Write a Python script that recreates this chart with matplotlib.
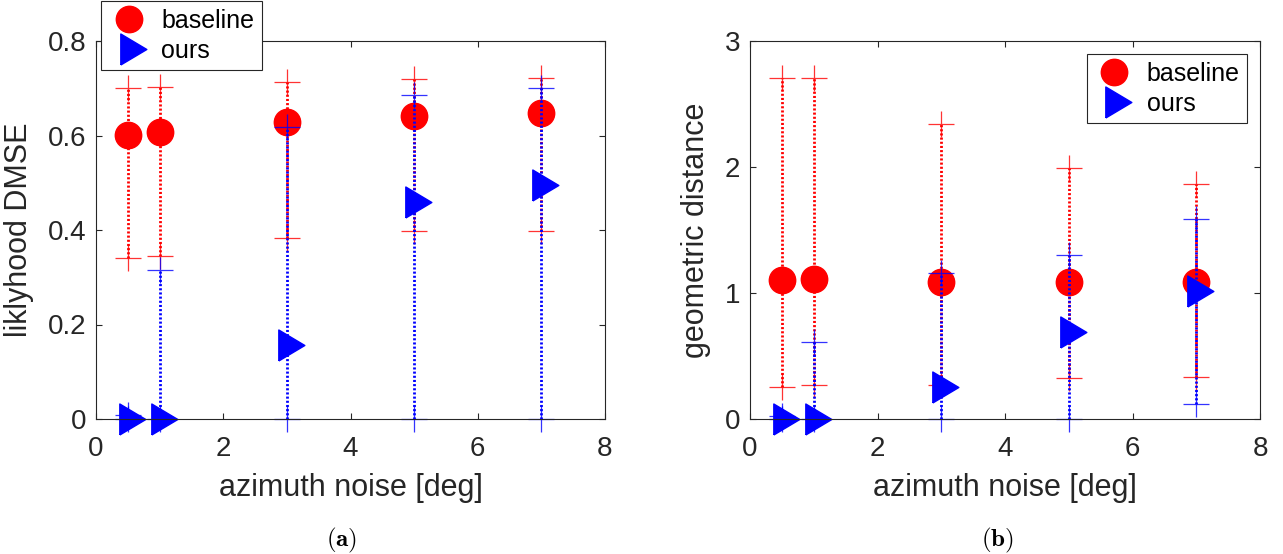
import matplotlib.pyplot as plt
from matplotlib.lines import Line2D

# ===== data: noise levels and per-method statistics (mean, lower, upper)
noise = [0.5, 1, 3, 5, 7]

# panel (a): likelihood DMSE
dmse_base = [0.602, 0.608, 0.628, 0.642, 0.648]
dmse_base_lo = [0.341, 0.345, 0.383, 0.398, 0.398]
dmse_base_hi = [0.701, 0.703, 0.714, 0.719, 0.722]
dmse_ours = [0.0, 0.0, 0.157, 0.459, 0.495]
dmse_ours_lo = [0.0, 0.0, 0.0, 0.0, 0.0]
dmse_ours_hi = [0.008, 0.315, 0.617, 0.686, 0.701]

# panel (b): geometric distance
geo_base = [1.103, 1.111, 1.090, 1.090, 1.085]
geo_base_lo = [0.251, 0.270, 0.270, 0.328, 0.336]
geo_base_hi = [2.709, 2.709, 2.344, 1.995, 1.865]
geo_ours = [0.0, 0.0, 0.251, 0.690, 1.016]
geo_ours_lo = [0.0, 0.0, 0.0, 0.0, 0.119]
geo_ours_hi = [0.024, 0.614, 1.159, 1.302, 1.587]

x_ticks = [0, 2, 4, 6, 8]
dmse_ticks = [0, 0.2, 0.4, 0.6, 0.8]
dmse_labels = ['0', '0.2', '0.4', '0.6', '0.8']
geo_ticks = [0, 1, 2, 3]
geo_labels = ['0', '1', '2', '3']

plt.rcParams['font.family'] = ['Liberation Sans', 'DejaVu Sans']
plt.rcParams['mathtext.fontset'] = 'cm'

AX_COL = '#262626'
RED = (1, 0, 0)
BLUE = (0, 0, 1)

# right-pointing triangle placed on its centroid
tri = [(-0.56, -1.0), (1.12, 0.0), (-0.56, 1.0), (-0.56, -1.0)]


def draw_series(ax, x, mean, lo, hi, color, marker, ms):
    # dotted range line with '+' caps, then the mean marker
    for xi, l, h in zip(x, lo, hi):
        ax.plot([xi, xi], [l, h], color=color, linewidth=2.0,
                dashes=(0.75, 0.75), clip_on=False)
    ax.plot(x, lo, '+', color=color, markersize=19, markeredgewidth=0.9,
            alpha=0.8, clip_on=False, linestyle='none')
    ax.plot(x, hi, '+', color=color, markersize=19, markeredgewidth=0.9,
            alpha=0.8, clip_on=False, linestyle='none')
    ax.plot(x, mean, linestyle='none', marker=marker, markersize=ms,
            color=color, markeredgecolor=color, clip_on=False)


def style_axes(ax, yticks, ylabels, ylim, ylabel):
    ax.set_xlim(0, 8)
    ax.set_ylim(*ylim)
    ax.set_xticks(x_ticks)
    ax.set_xticklabels([str(t) for t in x_ticks])
    ax.set_yticks(yticks)
    ax.set_yticklabels(ylabels)
    for s in ax.spines.values():
        s.set_color(AX_COL)
        s.set_linewidth(0.8)
    ax.tick_params(direction='in', top=True, right=True, length=4,
                   width=0.8, color=AX_COL, labelsize=20, labelcolor=AX_COL)
    ax.tick_params(axis='x', pad=12)
    ax.tick_params(axis='y', pad=7)
    ax.set_xlabel('azimuth noise [deg]', fontsize=22, color=AX_COL, labelpad=8)
    ax.set_ylabel(ylabel, fontsize=22, color=AX_COL, labelpad=10)


fig = plt.figure(figsize=(12.83, 5.54), dpi=100)
ax1 = fig.add_axes([96 / 1283, 135 / 554, 509 / 1283, 378 / 554])
ax2 = fig.add_axes([750 / 1283, 135 / 554, 510 / 1283, 378 / 554])

draw_series(ax1, noise, dmse_base, dmse_base_lo, dmse_base_hi, RED, 'o', 19)
draw_series(ax1, noise, dmse_ours, dmse_ours_lo, dmse_ours_hi, BLUE, tri, 25)
draw_series(ax2, noise, geo_base, geo_base_lo, geo_base_hi, RED, 'o', 19)
draw_series(ax2, noise, geo_ours, geo_ours_lo, geo_ours_hi, BLUE, tri, 25)

style_axes(ax1, dmse_ticks, dmse_labels, (0, 0.8), 'liklyhood DMSE')
style_axes(ax2, geo_ticks, geo_labels, (0, 3), 'geometric distance')

# ===== legends
handles = [Line2D([], [], linestyle='none', marker='o', markersize=19,
                  color=RED),
           Line2D([], [], linestyle='none', marker=tri, markersize=25,
                  color=BLUE)]
names = ['baseline', 'ours']

leg_kw = dict(fontsize=18, numpoints=1, fancybox=False, framealpha=1,
              edgecolor=AX_COL, borderpad=0.3, handlelength=1.6,
              handletextpad=0.5, labelspacing=0.25, borderaxespad=0,
              bbox_transform=fig.transFigure)
leg1 = ax1.legend(handles, names, loc='upper left',
                  bbox_to_anchor=(101 / 1283, 1 - 1 / 554), **leg_kw)
leg2 = ax2.legend(handles, names, loc='upper right',
                  bbox_to_anchor=(1247 / 1283, 1 - 54 / 554), **leg_kw)
for leg in (leg1, leg2):
    leg.get_frame().set_linewidth(0.8)
    leg.set_zorder(5)

# ===== sub-figure captions
fig.text(342 / 1283, 1 - 540 / 554, r'$\mathbf{(a)}$', fontsize=18,
         ha='center', va='center')
fig.text(997 / 1283, 1 - 540 / 554, r'$\mathbf{(b)}$', fontsize=18,
         ha='center', va='center')

fig.savefig('out.png', dpi=100)
